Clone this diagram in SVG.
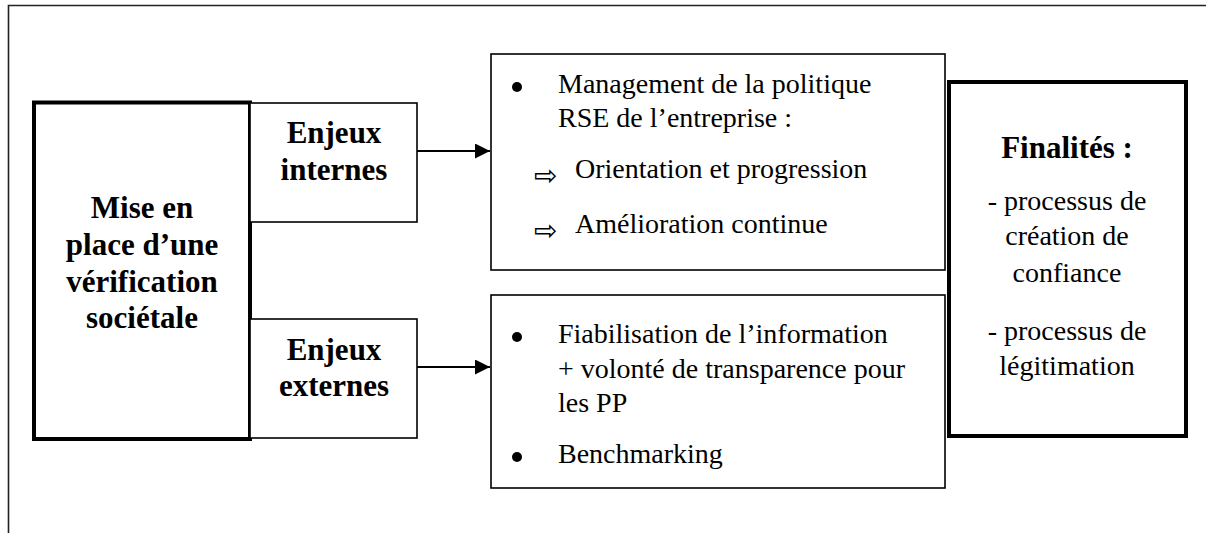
<svg xmlns="http://www.w3.org/2000/svg" width="1206" height="533" viewBox="0 0 1206 533">
<defs>
<style>
.thin{fill:#fff;stroke:#000;stroke-width:1.6}
.thick{fill:#fff;stroke:#000;stroke-width:4}
.b{font-family:"Liberation Serif","Times New Roman",serif;font-weight:bold;font-size:31px;fill:#000;text-anchor:middle}
.r{font-family:"Liberation Serif","Times New Roman",serif;font-size:28px;fill:#000}
.rc{font-family:"Liberation Serif","Times New Roman",serif;font-size:28px;fill:#000;text-anchor:middle}
.sym{font-family:"DejaVu Sans",sans-serif;font-size:28px;fill:#000}
.conn{stroke:#000;stroke-width:1.8;fill:none}
</style>
<marker id="ah" markerWidth="16" markerHeight="16" refX="15" refY="7.5" orient="auto" markerUnits="userSpaceOnUse">
<path d="M0,0 L15,7.5 L0,15 Z" fill="#000"/>
</marker>
</defs>
<rect width="1206" height="533" fill="#fff"/>
<g id="frame">
<path d="M8.5,533 L8.5,5.5 L1206,5.5" fill="none" stroke="#222" stroke-width="1.6"/>
</g>
<g id="mise-en-place">
<rect class="thick" x="34" y="102.5" width="216" height="336.5"/>
<text class="b" x="142" y="218">Mise en</text>
<text class="b" x="142" y="255">place d’une</text>
<text class="b" x="142" y="292">vérification</text>
<text class="b" x="142" y="328">sociétale</text>
</g>
<g id="enjeux-internes">
<rect class="thin" x="250" y="103" width="167" height="119"/>
<text class="b" x="334" y="143">Enjeux</text>
<text class="b" x="334" y="180">internes</text>
</g>
<g id="enjeux-externes">
<rect class="thin" x="250" y="319" width="167" height="119"/>
<text class="b" x="334" y="360">Enjeux</text>
<text class="b" x="334" y="396">externes</text>
</g>
<g id="management">
<rect class="thin" x="491" y="54" width="454" height="216"/>
<circle cx="517" cy="87" r="5" fill="#000"/>
<text class="r" x="558" y="93">Management de la politique</text>
<text class="r" x="558" y="127">RSE de l’entreprise :</text>
<text class="sym" x="534" y="185">⇨</text>
<text class="r" x="575" y="178">Orientation et progression</text>
<text class="sym" x="534" y="240">⇨</text>
<text class="r" x="575" y="233">Amélioration continue</text>
</g>
<g id="fiabilisation">
<rect class="thin" x="491" y="295" width="454" height="193"/>
<circle cx="517" cy="337" r="5" fill="#000"/>
<text class="r" x="558" y="343">Fiabilisation de l’information</text>
<text class="r" x="558" y="378">+ volonté de transparence pour</text>
<text class="r" x="558" y="412">les PP</text>
<circle cx="517" cy="457" r="5" fill="#000"/>
<text class="r" x="558" y="463">Benchmarking</text>
</g>
<g id="finalites">
<rect class="thick" x="949" y="82" width="237" height="354"/>
<text class="b" x="1067" y="158">Finalités :</text>
<text class="rc" x="1067" y="210">- processus de</text>
<text class="rc" x="1067" y="245">création de</text>
<text class="rc" x="1067" y="282">confiance</text>
<text class="rc" x="1067" y="340">- processus de</text>
<text class="rc" x="1067" y="375">légitimation</text>
</g>
<g id="connectors">
<line class="conn" x1="417" y1="151" x2="490" y2="151" marker-end="url(#ah)"/>
<line class="conn" x1="417" y1="367" x2="490" y2="367" marker-end="url(#ah)"/>
</g>
</svg>
